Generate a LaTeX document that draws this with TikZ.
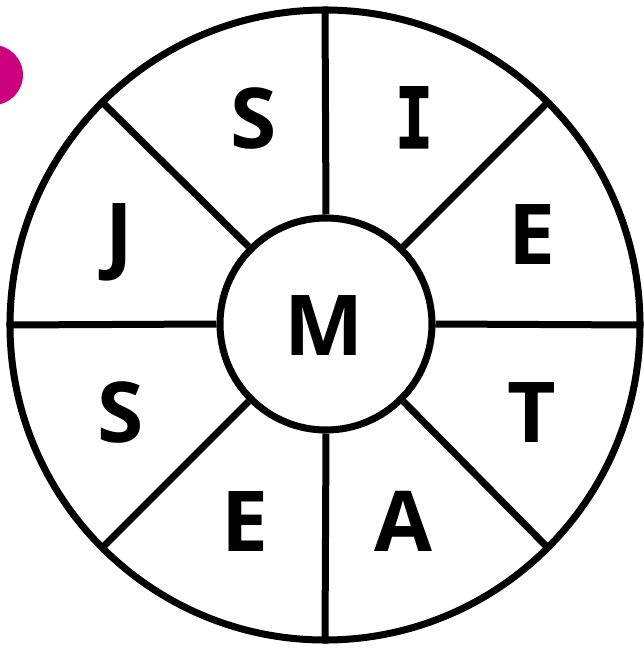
\documentclass[tikz,border=0pt]{standalone}
\usepackage{fontspec}
\setmainfont{Open Sans}
\newfontfamily\slabI{DejaVu Sans Mono}[FakeStretch=0.75,FakeBold=1.5]
\usepackage{tikz}
\usetikzlibrary{positioning}
\definecolor{badge}{RGB}{204,0,126}

\begin{document}
\begin{tikzpicture}[x=1pt,y=1pt,line width=7pt,
  rim/.style={draw,circle,minimum size=630pt,inner sep=0pt},
  hubring/.style={draw,circle,fill=white,minimum size=212pt,inner sep=0pt},
  letter/.style={inner sep=0pt,anchor=base,font=\fontsize{84}{84}\selectfont\bfseries}]
\useasboundingbox (-325,-323) rectangle (319,325);
\node[circle,fill=badge,minimum size=60pt,inner sep=0pt] (badge) at (-332,250) {};
\node[rim] (wheel) at (0,0) {};
\node[hubring] (hub) at (1,1) {};
\foreach \a in {0,45,...,315}
  \draw (hub.\a) -- (wheel.\a);
\node[letter] (m) at (-1,-30) {M};
\node[letter] (i) at (89,177) {\slabI I};
\foreach \p/\t/\n in {{(-71,176)}/S/sa,{(207.5,60)}/E/ea,{(207,-117)}/T/t,{(78,-226)}/A/a,
                      {(-79.5,-226)}/E/eb,{(-204,-117)}/S/sb,{(-206,61)}/J/j}
  \node[letter] (\n) at \p {\t};
\end{tikzpicture}
\end{document}
